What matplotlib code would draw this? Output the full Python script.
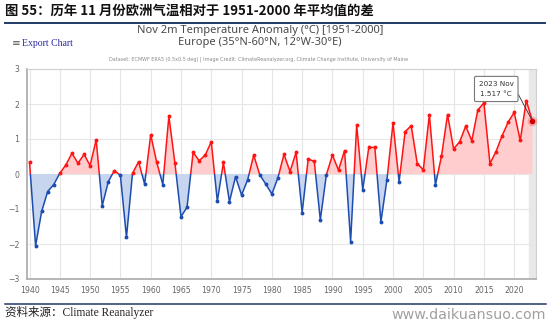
import numpy as np
import matplotlib.pyplot as plt
from matplotlib.patches import Rectangle
from matplotlib.lines import Line2D

# November 2m temperature anomaly over Europe, relative to 1951-2000 (°C)
years = np.arange(1940, 2024)
anomaly = np.array([
    0.33, -2.05, -1.07, -0.50, -0.30, 0.02, 0.26, 0.59, 0.31, 0.56,   # 1940s
    0.24, 0.98, -0.91, -0.22, 0.10, -0.04, -1.81, 0.02, 0.35, -0.29,  # 1950s
    1.12, 0.33, -0.30, 1.65, 0.31, -1.22, -0.95, 0.62, 0.38, 0.54,    # 1960s
    0.92, -0.78, 0.33, -0.79, -0.08, -0.60, -0.17, 0.54, -0.02, -0.29, # 1970s
    -0.57, -0.11, 0.56, 0.07, 0.62, -1.10, 0.43, 0.36, -1.31, -0.02,  # 1980s
    0.54, 0.11, 0.67, -1.93, 1.40, -0.45, 0.76, 0.76, -1.37, -0.16,   # 1990s
    1.46, -0.22, 1.21, 1.38, 0.30, 0.12, 1.70, -0.31, 0.51, 1.70,     # 2000s
    0.72, 0.92, 1.37, 0.95, 1.83, 2.03, 0.30, 0.64, 1.09, 1.48,       # 2010s
    1.76, 0.96, 2.10, 1.517,                                          # 2020s
])
x_ticks = list(range(1940, 2021, 5))
y_ticks = [-3, -2, -1, 0, 1, 2, 3]

red = '#ff1414'
blue = '#1c4db0'
pink_fill = '#ffcdcd'
blue_fill = '#c8d5ee'

fig = plt.figure(figsize=(5.5, 3.22), dpi=100)
ax = fig.add_axes([26.5 / 550, 43 / 322, 509.5 / 550, 210 / 322])

# hover crosshair on the last year
ax.axvspan(years[-1] - 0.5, years[-1] + 0.5, color='#e8e8e8', zorder=0)

ax.fill_between(years, anomaly, 0, where=anomaly >= 0, interpolate=True,
                color=pink_fill, lw=0, zorder=1)
ax.fill_between(years, anomaly, 0, where=anomaly < 0, interpolate=True,
                color=blue_fill, lw=0, zorder=1)

# one line, coloured red above zero and blue below it
for color, y0 in [(red, 0), (blue, -10)]:
    ln, = ax.plot(years, anomaly, color=color, lw=1.1, zorder=3,
                  solid_joinstyle='round')
    clip = Rectangle((1900, y0), 200, 10, transform=ax.transData)
    ln.set_clip_path(clip)

pos = anomaly >= 0
ax.plot(years[pos], anomaly[pos], 'o', color=red, ms=1.8, zorder=4)
ax.plot(years[~pos], anomaly[~pos], 'o', color=blue, ms=1.8, zorder=4)

# highlighted point with tooltip
ax.plot(years[-1], anomaly[-1], 'o', color=red, alpha=0.25, ms=7, mew=0, zorder=4)
ax.plot(years[-1], anomaly[-1], 'o', color='#cc0000', ms=3, zorder=5)
ax.annotate(f'{years[-1]} Nov\n{anomaly[-1]:.3f} °C',
            xy=(years[-1], anomaly[-1]), xytext=(-26, 23),
            textcoords='offset points', ha='center', va='center',
            fontsize=5.2, color='#333333', linespacing=1.9,
            bbox=dict(boxstyle='round,pad=0.6,rounding_size=0.2',
                      fc='white', ec='#777777', lw=0.8),
            arrowprops=dict(arrowstyle='-', color='#333333', lw=0.6,
                            relpos=(1.0, 0.7), shrinkA=0, shrinkB=2),
            zorder=6)

ax.set_xlim(1939.5, 2023.6)
ax.set_ylim(-3, 3)
ax.set_xticks(x_ticks)
ax.set_yticks(y_ticks)
ax.set_yticklabels([str(v).replace('-', '\u2212') for v in y_ticks])
ax.grid(True, color='#e6e6e6', lw=0.8, zorder=0)
ax.set_axisbelow(True)
ax.tick_params(length=0, labelsize=5.6, labelcolor='#666666', pad=5)
for side in ['top', 'right']:
    ax.spines[side].set_color('#d0d0d0')
    ax.spines[side].set_linewidth(0.8)
for side in ['left', 'bottom']:
    ax.spines[side].set_color('#b0b0b0')
    ax.spines[side].set_linewidth(1.3)

# chart titles
fig.text(260 / 550, 1 - 31 / 322, 'Nov 2m Temperature Anomaly (°C) [1951-2000]',
         ha='center', va='center', fontsize=8, family='Noto Sans', color='#4a4a4a')
fig.text(260 / 550, 1 - 43 / 322, 'Europe (35°N-60°N, 12°W-30°E)',
         ha='center', va='center', fontsize=8, family='Noto Sans', color='#4a4a4a')
fig.text(259 / 550, 1 - 59 / 322,
         'Dataset: ECMWF ERA5 (0.5x0.5 deg) | Image Credit: ClimateReanalyzer.org, '
         'Climate Change Institute, University of Maine',
         ha='center', va='center', fontsize=3.5, color='#8a8a8a')
fig.text(12 / 550, 1 - 43 / 322, '\u2261', ha='left', va='center',
         fontsize=7.5, color='#555555')
fig.text(22 / 550, 1 - 43 / 322, 'Export Chart', ha='left', va='center',
         fontsize=7, family='Liberation Serif', color='#2a2aa0')

# report header and footer
fig.text(5 / 550, 1 - 11 / 322,
         '图 55：历年 11 月份欧洲气温相对于 1951-2000 年平均值的差',
         ha='left', va='center', fontsize=9.6, weight='bold',
         family=['Noto Sans CJK SC', 'DejaVu Sans'], color='#111111')
fig.add_artist(Line2D([5 / 550, 545 / 550], [1 - 22.5 / 322] * 2,
                      color='#1f3a66', lw=1.4))
fig.add_artist(Line2D([5 / 550, 546 / 550], [1 - 304 / 322] * 2,
                      color='#1f3a66', lw=1.1))
fig.text(5 / 550, 1 - 312 / 322, '资料来源：Climate Reanalyzer',
         ha='left', va='center', fontsize=8.3,
         family=['Liberation Serif', 'Noto Sans CJK SC'], color='#222222')
fig.text(391 / 550, 1 - 315 / 322, 'www.daikuansuo.com', ha='left', va='center',
         fontsize=10.3, color='#a0a0a0')

fig.savefig('out.png', dpi=100, facecolor='white')
